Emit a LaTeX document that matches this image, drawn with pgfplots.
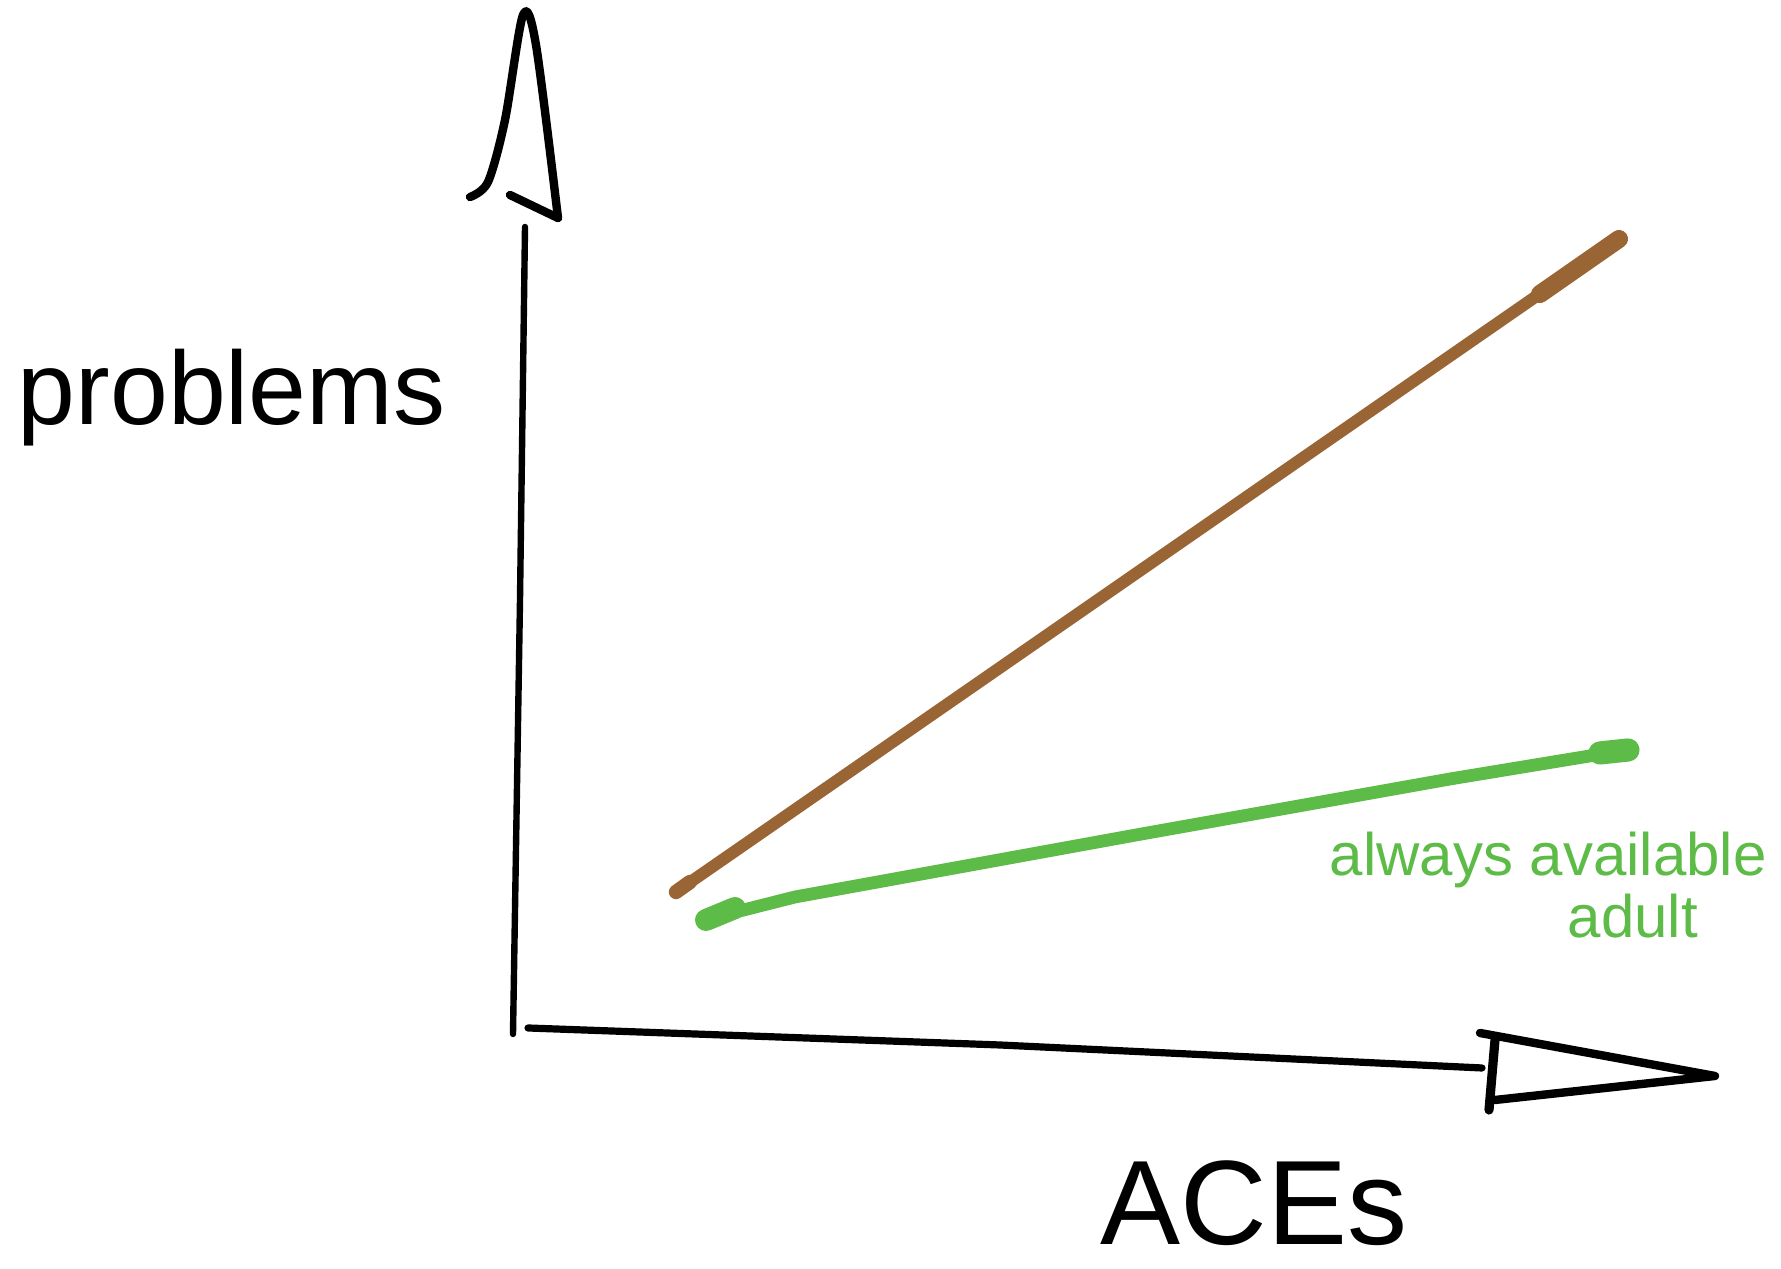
\documentclass[border=0pt]{standalone}
\usepackage{fontspec}
\setmainfont{Liberation Sans}
\usepackage{pgfplots}
\pgfplotsset{compat=1.18}
\definecolor{brownline}{HTML}{9A6535}
\definecolor{greenline}{HTML}{5DBB47}
\begin{document}
\begin{tikzpicture}
\begin{axis}[
  scale only axis, width=445.25pt, height=317.25pt,
  xmin=0, xmax=1781, ymin=0, ymax=1269, y dir=reverse,
  hide axis, clip=false,
  every axis plot/.append style={line cap=round, line join=round, mark=none},
]
% bounding box
\path (axis cs:0,0) rectangle (axis cs:1781,1269);
% y axis
\addplot[black, line width=1.6pt] coordinates {(525,227) (520,600) (513,1034)};
\addplot[black, line width=2.1pt, smooth] coordinates {(470,197) (488,182) (505,120) (523,15) (536,45) (558,218)};
\addplot[black, line width=2.1pt] coordinates {(510,195) (558,218)};
% x axis
\addplot[black, line width=1.8pt] coordinates {(528,1028) (1000,1045) (1482,1068)};
\addplot[black, line width=2.1pt] coordinates {(1480,1033) (1715,1076) (1495,1100)};
\addplot[black, line width=2.3pt] coordinates {(1495,1040) (1489,1110)};
% brown line
\addplot[brownline, line width=3pt] coordinates {(676,892) (1619,239)};
\addplot[brownline, line width=4.5pt] coordinates {(1540,294) (1619,239)};
\addplot[brownline, line width=3.6pt] coordinates {(676,892) (690,882)};
% green line
\addplot[greenline, line width=3.2pt] coordinates {(704,920) (795,897) (1136,835) (1450,779) (1626,750)};
\addplot[greenline, line width=5.5pt] coordinates {(706,920) (735,908)};
\addplot[greenline, line width=5.8pt] coordinates {(1600,753) (1628,750)};
% labels
\node[anchor=base west, inner sep=0pt, font=\fontsize{26}{30}\selectfont] at (axis cs:17,425) {problems};
\node[anchor=base west, inner sep=0pt, font=\fontsize{30}{34}\selectfont] at (axis cs:1100,1245) {ACEs};
\node[anchor=base west, inner sep=0pt, text=greenline, font=\fontsize{15}{18}\selectfont] at (axis cs:1329,876) {always available};
\node[anchor=base west, inner sep=0pt, text=greenline, font=\fontsize{15}{18}\selectfont] at (axis cs:1567,938) {adult};
\end{axis}
\end{tikzpicture}
\end{document}
